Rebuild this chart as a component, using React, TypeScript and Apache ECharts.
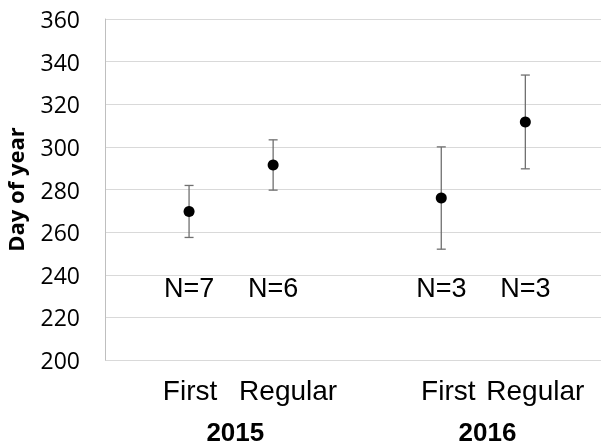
import React, { useEffect, useRef } from "react";
import * as echarts from "echarts";

const categories = ["First", "Regular", "First", "Regular"];
const slots = [1, 2, 4, 5];
const years = ["2015", "2016"];
const yearSlots = [1.55, 4.55];
const means = [269.7, 291.5, 276, 311.7];
const errors = [12.2, 11.8, 24, 22];
const nLabels = ["N=7", "N=6", "N=3", "N=3"];
const nLabelValue = 234;
const yTicks = [200, 220, 240, 260, 280, 300, 320, 340, 360];

const labelShift = [1, 15, 7, 10];

export default function App() {
  const ref = useRef<HTMLDivElement>(null);
  useEffect(() => {
    if (!ref.current) return;
    const chart = echarts.init(ref.current, undefined, { renderer: "svg" });
    const rich: Record<string, any> = {};
    labelShift.forEach((s, i) => {
      rich["c" + i] = {
        fontSize: 28,
        fontFamily: "Liberation Sans, Arial, sans-serif",
        color: "#000",
        padding: [0, 0, 0, 2 * s],
      };
    });
    chart.setOption({
      animation: false,
      grid: {
        left: 105,
        right: 0,
        top: 19,
        bottom: 87,
        containLabel: false,
        outerBoundsMode: "none",
      },
      xAxis: [
        {
          type: "value",
          min: 0,
          max: 5.9,
          axisLine: { show: false },
          axisTick: { show: false },
          splitLine: { show: false },
          axisLabel: {
            customValues: slots,
            margin: 16,
            formatter: (v: number) => {
              const i = slots.indexOf(v);
              return i >= 0 ? `{c${i}|${categories[i]}}` : "";
            },
            rich,
          },
        },
        {
          type: "value",
          position: "bottom",
          min: 0,
          max: 5.9,
          axisLine: { show: false },
          axisTick: { show: false },
          splitLine: { show: false },
          axisLabel: {
            customValues: yearSlots,
            margin: 59,
            fontSize: 26,
            fontWeight: "bold",
            fontFamily: "Liberation Sans, Arial, sans-serif",
            color: "#000",
            formatter: (v: number) => {
              const i = yearSlots.indexOf(v);
              return i >= 0 ? years[i] : "";
            },
          },
        },
      ],
      yAxis: {
        type: "value",
        min: yTicks[0],
        max: yTicks[yTicks.length - 1],
        interval: 20,
        name: "Day of year",
        nameLocation: "middle",
        nameGap: 79,
        nameTextStyle: {
          fontSize: 22,
          fontWeight: "bold",
          fontFamily: "Open Sans, sans-serif",
          color: "#000",
        },
        axisLine: { show: true, lineStyle: { color: "#bfbfbf", width: 1 } },
        axisTick: { show: false },
        axisLabel: {
          fontSize: 23,
          fontFamily: "Open Sans, sans-serif",
          color: "#000",
          margin: 25,
        },
        splitLine: { show: true, lineStyle: { color: "#d9d9d9", width: 1 } },
      },
      series: [
        {
          type: "custom",
          xAxisIndex: 0,
          z: 2,
          data: slots.map((s, i) => [s, means[i] - errors[i], means[i] + errors[i]]),
          renderItem: (params: any, api: any) => {
            const x = api.value(0);
            const lo = api.coord([x, api.value(1)]);
            const hi = api.coord([x, api.value(2)]);
            const hw = 4.5;
            const style = { stroke: "#707070", lineWidth: 1.3 };
            return {
              type: "group",
              children: [
                { type: "line", shape: { x1: hi[0], y1: hi[1], x2: lo[0], y2: lo[1] }, style },
                { type: "line", shape: { x1: hi[0] - hw, y1: hi[1], x2: hi[0] + hw, y2: hi[1] }, style },
                { type: "line", shape: { x1: lo[0] - hw, y1: lo[1], x2: lo[0] + hw, y2: lo[1] }, style },
              ],
            };
          },
        },
        {
          type: "scatter",
          xAxisIndex: 0,
          z: 3,
          symbol: "circle",
          symbolSize: 11,
          itemStyle: { color: "#000", opacity: 1 },
          data: slots.map((s, i) => [s, means[i]]),
        },
        {
          type: "scatter",
          xAxisIndex: 0,
          z: 3,
          symbolSize: 0,
          silent: true,
          itemStyle: { opacity: 0 },
          data: slots.map((s) => [s, nLabelValue]),
          label: {
            show: true,
            position: "inside",
            fontSize: 27,
            fontFamily: "Liberation Sans, Arial, sans-serif",
            color: "#000",
            textBorderWidth: 0,
            opacity: 1,
            formatter: (p: any) => nLabels[p.dataIndex],
          },
        },
      ],
    });
    return () => chart.dispose();
  }, []);
  return (
    <div
      ref={ref}
      style={{ position: "fixed", left: 0, top: 0, width: 601, height: 447 }}
    />
  );
}
